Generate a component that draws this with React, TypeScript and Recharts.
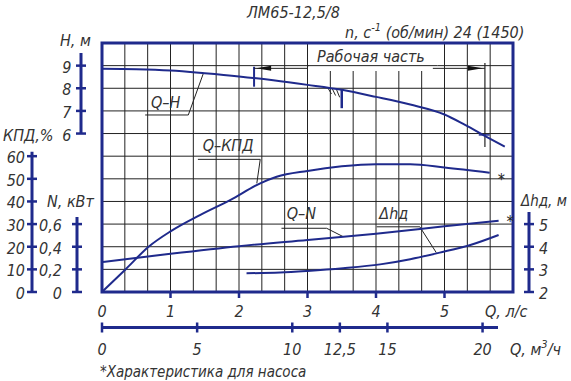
import {
  ComposedChart,
  Line,
  XAxis,
  YAxis,
  CartesianGrid,
  ReferenceLine,
  ReferenceArea,
  ReferenceDot,
} from "recharts";

// Q-H curve (Q in l/s, H in m)
const Q_H = [0, 0.5, 1.0, 1.5, 2.0, 2.5, 3.0, 3.5, 4.0, 4.5, 5.0, 5.3, 5.6, 5.88];
const H_VALUES = [8.86, 8.84, 8.78, 8.66, 8.52, 8.35, 8.15, 7.93, 7.62, 7.28, 6.84, 6.38, 5.88, 5.42];

// Q-KPD curve (%)
const Q_KPD = [0, 0.35, 0.68, 1.0, 1.43, 1.87, 2.31, 2.55, 3.0, 3.5, 4.0, 4.5, 5.0, 5.66];
const KPD_VALUES = [0, 10.2, 20, 26.8, 34, 40.6, 48, 50.9, 53.5, 55.5, 56.4, 56.4, 55, 52.7];

// Q-N curve (kW)
const Q_N = [0, 1, 2, 3, 4, 5, 5.79];
const N_VALUES = [0.265, 0.338, 0.405, 0.46, 0.515, 0.58, 0.63];

// delta h curve (m)
const Q_DH = [2.11, 2.6, 3.0, 3.52, 4.06, 4.5, 4.93, 5.4, 5.79];
const DH_VALUES = [2.83, 2.86, 2.93, 3.05, 3.22, 3.45, 3.74, 4.1, 4.52];

// tick labels
const Q_LS_LABELS = [0, 1, 2, 3, 4, 5];
const Q_M3_TICKS = [0, 5, 10, 12.5, 15, 20];
const H_TICKS = [6, 7, 8, 9];
const KPD_TICKS = [0, 10, 20, 30, 40, 50, 60];
const N_TICKS = [0, 0.2, 0.4, 0.6];
const DH_TICKS = [2, 3, 4, 5];

// 1 l/s = 3.6 m3/h
const M3_PER_LS = 3.6;

// grid every 1/3 l/s and every 1 m of head
const Q_GRID = Array.from({ length: 19 }, (_, i) => i / 3);
const H_GRID = Array.from({ length: 12 }, (_, i) => i - 1);

const NAVY = "#1f2a8c";
const INK = "#222";
const FONT = "'Liberation Sans Narrow', 'DejaVu Sans Condensed', 'Liberation Sans', sans-serif";
const TEXT_STYLE = { fontFamily: FONT, fontStyle: "italic", fontSize: 16, fill: "#333" };

const hData = Q_H.map((q, i) => ({ q, m3: q * M3_PER_LS, h: H_VALUES[i] }));
const kpdData = Q_KPD.map((q, i) => ({ q, kpd: KPD_VALUES[i] }));
const nData = Q_N.map((q, i) => ({ q, n: N_VALUES[i] }));
const dhData = Q_DH.map((q, i) => ({ q, dh: DH_VALUES[i] }));

// axis ids are ordered: the first one sits next to the plot
const XQ = "x1q";
const XM3 = "x2m3";
const Y_SPL = "y1sp";
const Y_H = "y2H";
const Y_N = "y3N";
const Y_KPD = "y4KPD";
const Y_SPR = "y1spR";
const Y_DH = "y2DH";

const fmt = (v: number) => String(v).replace(".", ",");

const makeSideTick = (shown: number[], gap: number, side: "left" | "right") => (props: any) => {
  const { x, y, payload } = props;
  if (!shown.includes(payload.value)) return <g />;
  return (
    <g>
      <line x1={x - 5} x2={x + 5} y1={y} y2={y} stroke={NAVY} strokeWidth={2.5} />
      <text
        x={side === "left" ? x - gap : x + gap}
        y={y + 7}
        textAnchor={side === "left" ? "end" : "start"}
        style={TEXT_STYLE}
      >
        {fmt(payload.value)}
      </text>
    </g>
  );
};

const qTick = (props: any) => {
  const { x, y, payload } = props;
  const r = Math.round(payload.value);
  if (Math.abs(payload.value - r) > 1e-6 || !Q_LS_LABELS.includes(r)) return <g />;
  return (
    <g>
      {r > 0 && <line x1={x} x2={x} y1={y} y2={y + 6} stroke={NAVY} strokeWidth={2.5} />}
      <text x={x} y={y + 25} textAnchor="middle" style={TEXT_STYLE}>
        {r}
      </text>
    </g>
  );
};

const m3Tick = (props: any) => {
  const { x, y, payload } = props;
  return (
    <g>
      <line x1={x} x2={x} y1={y - 5} y2={y + 5} stroke={NAVY} strokeWidth={2.5} />
      <text x={x} y={y + 27} textAnchor="middle" style={TEXT_STYLE}>
        {fmt(payload.value)}
      </text>
    </g>
  );
};

const starLabel = (last: number, dy: number) => (p: any) =>
  p.index === last ? (
    <text x={p.x + 8} y={p.y + dy} style={{ ...TEXT_STYLE, fontStyle: "normal", fill: INK }}>
      *
    </text>
  ) : (
    <g />
  );

const textShape = (label: string) => (p: any) =>
  (
    <text x={p.cx} y={p.cy + 6} textAnchor="middle" style={TEXT_STYLE}>
      {label}
    </text>
  );

const arrowShape = (dir: 1 | -1) => (p: any) =>
  (
    <polygon
      points={`${p.cx},${p.cy} ${p.cx + dir * 15},${p.cy - 2.5} ${p.cx + dir * 15},${p.cy + 2.5}`}
      fill="#111"
    />
  );

const seg = (x1: number, y1: number, x2: number, y2: number, yAxisId: string, stroke = INK, w = 1) => (
  <ReferenceLine
    key={`${yAxisId}-${x1}-${y1}-${x2}-${y2}`}
    xAxisId={XQ}
    yAxisId={yAxisId}
    segment={[
      { x: x1, y: y1 },
      { x: x2, y: y2 },
    ]}
    stroke={stroke}
    strokeWidth={w}
    ifOverflow="visible"
  />
);

const App: React.FC = () => {
  return (
    <div style={{ position: "absolute", left: 0, top: 0, width: 571, height: 381, background: "#fff" }}>
      <ComposedChart width={571} height={381} margin={{ top: 43, right: 0, left: 0, bottom: 33.5 }}>
        <CartesianGrid xAxisId={XQ} yAxisId={Y_H} stroke={INK} strokeWidth={1} />

        <XAxis
          xAxisId={XQ}
          dataKey="q"
          type="number"
          domain={[0, 6]}
          ticks={Q_GRID}
          interval={0}
          height={35.5}
          axisLine={false}
          tickLine={false}
          tickSize={0}
          tickMargin={0}
          tick={qTick}
          allowDataOverflow
        />
        <XAxis
          xAxisId={XM3}
          dataKey="m3"
          type="number"
          domain={[0, 6 * M3_PER_LS]}
          ticks={Q_M3_TICKS}
          interval={0}
          height={20}
          axisLine={{ stroke: NAVY, strokeWidth: 3, strokeDasharray: "396 400" }}
          tickLine={false}
          tickSize={0}
          tickMargin={0}
          tick={m3Tick}
          allowDataOverflow
        />

        <YAxis yAxisId={Y_SPL} width={21} domain={[0, 1]} tick={false} axisLine={false} tickLine={false} />
        <YAxis
          yAxisId={Y_H}
          width={4}
          type="number"
          domain={[-1, 10]}
          ticks={H_GRID}
          interval={0}
          tickSize={0}
          tickMargin={0}
          tickLine={false}
          axisLine={{ stroke: NAVY, strokeWidth: 3, strokeDasharray: "0 10 80 400" }}
          tick={makeSideTick(H_TICKS, 9.5, "left")}
          allowDataOverflow
        />
        <YAxis
          yAxisId={Y_N}
          width={45}
          type="number"
          domain={[0, 2.2]}
          ticks={N_TICKS}
          interval={0}
          tickSize={0}
          tickMargin={0}
          tickLine={false}
          axisLine={{ stroke: NAVY, strokeWidth: 3, strokeDasharray: "0 174 75 400" }}
          tick={makeSideTick(N_TICKS, 15, "left")}
          allowDataOverflow
        />
        <YAxis
          yAxisId={Y_KPD}
          width={32}
          type="number"
          domain={[0, 110]}
          ticks={KPD_TICKS}
          interval={0}
          tickSize={0}
          tickMargin={0}
          tickLine={false}
          axisLine={{ stroke: NAVY, strokeWidth: 3, strokeDasharray: "0 108.7 140.3 400" }}
          tick={makeSideTick(KPD_TICKS, 7, "left")}
          allowDataOverflow
        />
        <YAxis yAxisId={Y_SPR} orientation="right" width={16} domain={[0, 1]} tick={false} axisLine={false} tickLine={false} />
        <YAxis
          yAxisId={Y_DH}
          orientation="right"
          width={42}
          type="number"
          domain={[2, 13]}
          ticks={DH_TICKS}
          interval={0}
          tickSize={0}
          tickMargin={0}
          tickLine={false}
          axisLine={{ stroke: NAVY, strokeWidth: 3, strokeDasharray: "0 169 80 400" }}
          tick={makeSideTick(DH_TICKS, 10, "right")}
          allowDataOverflow
        />

        {/* white box behind "Рабочая часть" */}
        <ReferenceArea xAxisId={XQ} yAxisId={Y_H} x1={3.02} x2={4.9} y1={8.76} y2={10} fill="#fff" fillOpacity={1} stroke="none" />
        {seg(3.0, 9, 4.9, 9, Y_H)}

        {/* working range dimension */}
        {seg(2.22, 8.95, 2.22, 8.07, Y_H, NAVY, 2)}
        {seg(5.59, 9.12, 5.59, 5.41, Y_H, INK, 1.2)}
        {seg(5.5, 5.94, 5.66, 5.94, Y_H, NAVY, 1.5)}
        {seg(2.22, 8.88, 3.0, 8.88, Y_H)}
        {seg(4.83, 8.88, 5.59, 8.88, Y_H)}
        <ReferenceDot xAxisId={XQ} yAxisId={Y_H} x={2.25} y={8.88} r={0} shape={arrowShape(1)} />
        <ReferenceDot xAxisId={XQ} yAxisId={Y_H} x={5.56} y={8.88} r={0} shape={arrowShape(-1)} />

        {/* nominal point */}
        {seg(3.5, 7.93, 3.5, 7.12, Y_H, NAVY, 2.5)}
        {seg(3.3, 8.0, 3.35, 7.75, Y_H)}
        {seg(3.36, 7.99, 3.41, 7.68, Y_H)}
        {seg(3.42, 7.97, 3.47, 7.6, Y_H)}

        {/* leaders */}
        {seg(0.63, 6.82, 1.26, 6.82, Y_H)}
        {seg(1.26, 6.82, 1.48, 8.66, Y_H)}
        <ReferenceDot xAxisId={XQ} yAxisId={Y_H} x={0.93} y={7.41} r={0} shape={textShape("Q–H")} />

        {seg(1.4, 58.6, 2.31, 58.6, Y_KPD)}
        {seg(2.31, 58.6, 2.26, 48, Y_KPD)}
        <ReferenceDot xAxisId={XQ} yAxisId={Y_KPD} x={1.84} y={64.9} r={0} shape={textShape("Q–КПД")} />

        {seg(2.62, 0.563, 3.28, 0.563, Y_N)}
        {seg(3.28, 0.563, 3.52, 0.489, Y_N)}
        <ReferenceDot xAxisId={XQ} yAxisId={Y_N} x={2.91} y={0.695} r={0} shape={textShape("Q–N")} />

        {seg(4.01, 4.88, 4.64, 4.88, Y_DH)}
        {seg(4.64, 4.88, 4.88, 3.74, Y_DH)}
        <ReferenceDot xAxisId={XQ} yAxisId={Y_DH} x={4.26} y={5.49} r={0} shape={textShape("Δhд")} />

        {/* same Q-H data against the m3/h scale, invisible: gives that axis its scale */}
        <Line xAxisId={XM3} yAxisId={Y_H} data={hData} dataKey="h" stroke="none" dot={false} activeDot={false} isAnimationActive={false} />

        <Line xAxisId={XQ} yAxisId={Y_H} data={hData} dataKey="h" type="monotone" stroke={NAVY} strokeWidth={2} dot={false} isAnimationActive={false} />
        <Line
          xAxisId={XQ}
          yAxisId={Y_KPD}
          data={kpdData}
          dataKey="kpd"
          type="monotone"
          stroke={NAVY}
          strokeWidth={2}
          dot={false}
          isAnimationActive={false}
          label={starLabel(kpdData.length - 1, 12)}
        />
        <Line
          xAxisId={XQ}
          yAxisId={Y_N}
          data={nData}
          dataKey="n"
          type="monotone"
          stroke={NAVY}
          strokeWidth={2}
          dot={false}
          isAnimationActive={false}
          label={starLabel(nData.length - 1, 6)}
        />
        <Line xAxisId={XQ} yAxisId={Y_DH} data={dhData} dataKey="dh" type="monotone" stroke={NAVY} strokeWidth={2} dot={false} isAnimationActive={false} />

        {/* frame */}
        <ReferenceArea xAxisId={XQ} yAxisId={Y_H} x1={0} x2={6} y1={-1} y2={10} fill="none" stroke={NAVY} strokeWidth={3} ifOverflow="visible" />
      </ComposedChart>

      <svg width={571} height={381} style={{ position: "absolute", left: 0, top: 0, pointerEvents: "none" }}>
        <text x={247} y={18} style={TEXT_STYLE}>ЛМ65-12,5/8</text>
        <text x={345} y={38} style={TEXT_STYLE}>
          n, c<tspan dy={-7} fontSize={11}>-1</tspan>
          <tspan dy={7}> (об/мин) 24 (1450)</tspan>
        </text>
        <text x={317} y={62} style={TEXT_STYLE}>Рабочая часть</text>
        <text x={60} y={46} style={TEXT_STYLE}>Н, м</text>
        <text x={3} y={141} style={TEXT_STYLE}>КПД,%</text>
        <text x={47} y={207} style={TEXT_STYLE}>N, кВт</text>
        <text x={521} y={206} style={{ ...TEXT_STYLE, fontSize: 15 }}>Δhд, м</text>
        <text x={485} y={317} style={TEXT_STYLE}>Q, л/с</text>
        <text x={510} y={355} style={TEXT_STYLE}>
          Q, м<tspan dy={-7} fontSize={11}>3</tspan>
          <tspan dy={7}>/ч</tspan>
        </text>
        <text x={100} y={377} style={{ ...TEXT_STYLE, fontSize: 15 }}>*Характеристика для насоса</text>
      </svg>
    </div>
  );
};

export default App;
